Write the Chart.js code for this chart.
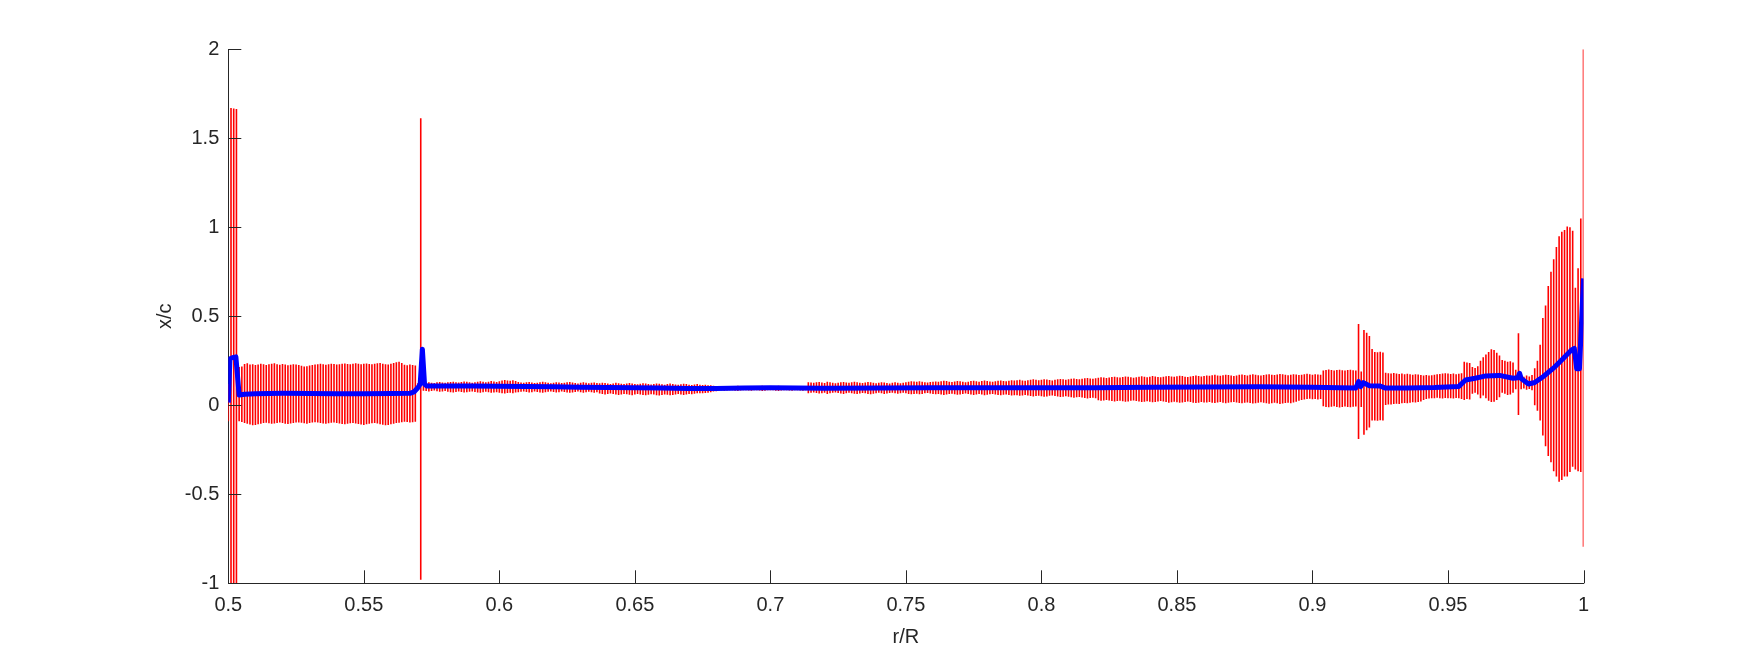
<!DOCTYPE html>
<html><head><meta charset="utf-8">
<script src="https://cdn.jsdelivr.net/npm/chart.js@4"></script>
<style>html,body{margin:0;padding:0;background:#fff;}canvas{display:block;}</style>
</head><body>
<canvas id="c" width="1750" height="656"></canvas>
<script>
// ---- tick labels ----
const xTicks = [0.5, 0.55, 0.6, 0.65, 0.7, 0.75, 0.8, 0.85, 0.9, 0.95, 1];
const xTickLabels = ['0.5', '0.55', '0.6', '0.65', '0.7', '0.75', '0.8', '0.85', '0.9', '0.95', '1'];
const yTicks = [-1, -0.5, 0, 0.5, 1, 1.5, 2];
const yTickLabels = ['-1', '-0.5', '0', '0.5', '1', '1.5', '2'];

// ---- radial sample grid of the red range bars (r/R = 0.500, 0.501, ... 1.000) ----
const rStart = 0.5, rEnd = 1.0;

// upper end of each red bar
const barHigh = [
 0.12, 1.67, 1.668, 1.665,
 0.215,0.218,0.232,0.236,0.229,0.231,0.226,0.229,0.233,0.230,
 0.227,0.231,0.234,0.236,0.230,0.228,0.232,0.229,0.225,0.228,
 0.231,0.229,0.226,0.222,0.218,0.220,0.224,0.227,0.229,0.231,
 0.233,0.230,0.228,0.231,0.234,0.232,0.229,0.231,0.233,0.235,
 0.232,0.230,0.233,0.236,0.234,0.231,0.233,0.235,0.232,0.230,
 0.233,0.236,0.238,0.234,0.231,0.229,0.233,0.237,0.242,0.245,
 0.238,0.228,0.225,0.229,0.226,0.224,
 0.125, 1.612,
 0.128,0.126,0.130,0.127,0.125,0.129,0.131,0.128,0.126,
 0.129,0.131,0.133,0.130,0.128,0.131,0.134,0.132,0.129,0.127,
 0.130,0.133,0.135,0.132,0.130,0.133,0.136,0.134,0.131,0.135,
 0.139,0.142,0.140,0.138,0.141,0.137,
 0.131,0.128,0.126,0.129,0.131,0.128,0.125,0.127,0.130,0.132,
 0.129,0.126,0.124,0.127,0.130,0.128,0.125,0.127,0.129,0.131,
 0.128,0.125,0.123,0.126,0.129,0.127,0.124,0.126,0.128,0.125,
 0.124,0.127,0.125,0.122,0.120,0.123,0.126,0.124,0.121,0.119,
 0.122,0.125,0.123,0.120,0.118,0.121,0.124,0.122,0.119,0.117,
 0.120,0.123,0.121,0.118,0.116,0.119,0.122,0.120,0.117,0.115,
 0.118,0.121,0.119,0.116,0.114,0.117,0.119,
 0.115,0.114,0.116,0.113,0.112,0.110,0.109,
 0.108,0.107,0.109,0.108,0.106,0.107,0.109,0.110,0.108,0.107,
 0.106,0.108,0.109,0.107,0.106,0.108,0.110,0.109,0.107,0.106,
 0.107,0.109,0.110,0.108,0.107,0.106,0.108,0.109,0.107,0.106,
 0.108,0.109,0.107,
 0.130,0.128,0.126,0.129,0.131,0.128,0.125,0.132,0.129,0.127,
 0.124,0.126,0.129,0.131,0.128,0.126,0.129,0.132,0.130,0.127,
 0.125,0.128,0.131,0.129,0.126,0.124,0.127,0.130,0.128,0.125,
 0.123,0.126,0.129,0.127,0.124,0.127,0.130,0.133,0.135,0.134,
 0.132,0.135,0.133,0.130,0.128,0.131,0.133,
 0.134,0.132,0.135,0.138,0.136,0.133,0.131,0.134,0.137,0.135,
 0.132,0.130,0.133,0.136,0.138,0.135,0.133,0.136,0.139,0.137,
 0.134,0.132,0.135,0.138,0.140,0.137,0.135,0.138,0.141,0.139,
 0.141,0.143,0.140,0.138,0.141,0.144,0.146,0.143,0.141,0.144,
 0.147,0.145,0.142,0.140,0.143,0.146,0.148,0.146,0.143,0.146,
 0.149,0.151,0.148,0.146,0.149,0.152,0.154,0.151,0.149,0.152,
 0.155,0.158,0.156,0.153,0.156,0.159,0.161,0.158,0.156,0.159,
 0.162,0.160,0.157,0.155,0.158,0.161,0.163,0.160,0.158,0.161,
 0.164,0.162,0.159,0.157,0.160,0.163,0.165,0.162,0.160,0.163,
 0.166,0.164,0.161,0.159,0.162,0.165,0.167,0.164,0.162,0.165,
 0.168,0.166,0.169,0.171,0.168,0.166,0.169,0.172,0.170,0.167,
 0.165,0.168,0.171,0.173,0.170,0.168,0.171,0.174,0.172,0.169,
 0.167,0.170,0.173,0.175,0.172,0.170,0.173,0.176,0.174,0.171,
 0.169,0.172,0.175,0.173,0.170,0.172,0.175,0.177,0.174,0.172,
 0.175,0.173,0.171,
 0.196,0.199,0.201,0.198,0.196,0.199,0.200,0.197,0.195,0.198,0.200,0.197,0.196,
 0.457,0.190,0.423,0.408,0.389,0.316,0.300,0.298,0.301,0.297,
 0.183,0.180,0.178,0.181,0.179,0.176,0.178,0.175,0.177,0.174,0.172,0.175,0.173,0.170,
 0.168,0.170,0.167,0.169,0.172,0.174,0.176,0.178,0.180,0.178,
 0.176,0.178,0.175,0.177,0.180,
 0.245,0.240,0.238,
 0.215,0.210,0.220,
 0.250,
 0.270,0.285,0.300,0.315,0.310,0.295,0.280,
 0.255,0.250,0.245,0.248,0.240,
 0.200,
 0.405,
 0.165,0.160,0.168,0.162,0.170,
 0.208,0.250,0.340,0.490,0.560,0.670,0.750,0.820,0.890,0.950,
 0.975,0.985,1.005,1.000,0.980,0.660,0.770,1.050,2.000
];

// lower end of each red bar
const barLow = [
 -0.09, -1.05, -1.05, -1.05,
 -0.090,-0.094,-0.100,-0.104,-0.108,-0.112,-0.110,-0.106,-0.103,-0.100,
 -0.098,-0.101,-0.104,-0.102,-0.099,-0.097,-0.100,-0.103,-0.105,-0.102,
 -0.099,-0.097,-0.096,-0.098,-0.101,-0.103,-0.100,-0.097,-0.095,-0.097,
 -0.100,-0.102,-0.104,-0.101,-0.098,-0.096,-0.099,-0.102,-0.105,-0.107,
 -0.104,-0.101,-0.099,-0.102,-0.105,-0.108,-0.110,-0.107,-0.104,-0.101,
 -0.099,-0.102,-0.106,-0.109,-0.112,-0.110,-0.106,-0.103,-0.100,-0.098,
 -0.095,-0.092,-0.094,-0.097,-0.095,-0.093,
 0.085, -0.98,
 0.082,0.080,0.078,0.081,0.083,0.079,0.076,0.078,0.080,
 0.076,0.074,0.072,0.075,0.078,0.075,0.072,0.073,0.076,0.078,
 0.075,0.072,0.070,0.073,0.076,0.073,0.070,0.072,0.074,0.071,
 0.068,0.066,0.069,0.071,0.068,0.072,
 0.074,0.076,0.078,0.075,0.072,0.074,0.077,0.075,0.072,0.070,
 0.073,0.076,0.078,0.075,0.072,0.074,0.077,0.075,0.072,0.070,
 0.072,0.075,0.077,0.074,0.071,0.073,0.076,0.074,0.071,0.073,
 0.066,0.063,0.061,0.064,0.066,0.063,0.060,0.058,0.061,0.064,
 0.062,0.059,0.057,0.060,0.063,0.061,0.058,0.056,0.059,0.062,
 0.060,0.057,0.055,0.058,0.061,0.059,0.056,0.058,0.061,0.063,
 0.060,0.058,0.061,0.064,0.062,0.065,0.067,
 0.068,0.067,0.069,0.071,0.074,0.077,0.079,
 0.083,0.084,0.082,0.083,0.085,0.084,0.082,0.081,0.083,0.084,
 0.085,0.083,0.082,0.084,0.085,0.083,0.081,0.082,0.084,0.085,
 0.084,0.082,0.081,0.083,0.084,0.085,0.083,0.082,0.084,0.085,
 0.083,0.082,0.084,
 0.068,0.070,0.072,0.069,0.066,0.068,0.071,0.064,0.067,0.070,
 0.072,0.069,0.066,0.064,0.067,0.070,0.068,0.065,0.063,0.066,
 0.069,0.067,0.064,0.062,0.065,0.068,0.070,0.067,0.064,0.066,
 0.069,0.071,0.068,0.065,0.067,0.070,0.067,0.064,0.062,0.063,
 0.065,0.062,0.064,0.067,0.069,0.066,0.064,
 0.062,0.064,0.061,0.058,0.060,0.063,0.065,0.062,0.059,0.061,
 0.064,0.066,0.063,0.060,0.058,0.061,0.063,0.060,0.057,0.059,
 0.062,0.064,0.061,0.058,0.056,0.059,0.061,0.058,0.055,0.057,
 0.056,0.053,0.055,0.058,0.055,0.052,0.049,0.052,0.054,0.051,
 0.048,0.050,0.053,0.055,0.052,0.049,0.046,0.048,0.051,0.048,
 0.045,0.042,0.045,0.047,0.044,0.041,0.038,0.041,0.043,0.040,
 0.028,0.025,0.027,0.030,0.027,0.024,0.021,0.024,0.026,0.023,
 0.020,0.022,0.025,0.027,0.024,0.021,0.018,0.020,0.023,0.020,
 0.017,0.019,0.022,0.024,0.021,0.018,0.015,0.017,0.020,0.017,
 0.014,0.016,0.019,0.021,0.018,0.015,0.013,0.015,0.018,0.016,
 0.016,0.018,0.015,0.013,0.016,0.018,0.015,0.012,0.014,0.017,
 0.019,0.016,0.013,0.011,0.014,0.016,0.013,0.010,0.012,0.015,
 0.017,0.014,0.011,0.009,0.012,0.014,0.011,0.008,0.010,0.013,
 0.015,0.012,0.016,0.020,0.026,0.030,0.033,0.035,0.037,0.034,
 0.036,0.033,0.035,
 -0.006,-0.009,-0.011,-0.008,-0.006,-0.009,-0.012,-0.010,-0.007,-0.009,-0.011,-0.008,-0.007,
 -0.190,-0.010,-0.165,-0.140,-0.125,-0.085,-0.085,-0.087,-0.084,-0.086,
 0.002,0.005,0.004,0.007,0.009,0.008,0.011,0.013,0.012,0.015,0.017,0.016,0.019,0.021,
 0.030,0.035,0.038,0.040,0.039,0.042,0.040,0.038,0.041,0.039,
 0.040,0.038,0.041,0.039,0.036,
 0.030,0.035,0.032,
 0.065,0.070,0.060,
 0.040,
 0.055,0.040,0.025,0.018,0.020,0.030,0.045,
 0.070,0.065,0.058,0.060,0.070,
 0.090,
 -0.055,
 0.090,0.095,0.088,0.092,0.085,
 0.000,-0.030,-0.085,-0.170,-0.230,-0.285,-0.320,-0.370,-0.400,-0.430,
 -0.420,-0.400,-0.400,-0.375,-0.345,-0.360,-0.370,-0.375,-0.795
];

// blue mean curve
const meanR = [0.5, 0.5006, 0.5015, 0.5028, 0.5040, 0.506, 0.51, 0.52, 0.53, 0.54, 0.55, 0.56, 0.567,
  0.5685, 0.5700, 0.5708, 0.5716, 0.5724, 0.5732, 0.58, 0.59, 0.60, 0.61, 0.62, 0.63, 0.64, 0.65,
  0.66, 0.67, 0.68, 0.69, 0.70, 0.71, 0.72, 0.74, 0.76, 0.78, 0.80, 0.82, 0.84, 0.86, 0.88, 0.90,
  0.91, 0.916, 0.9170, 0.9178, 0.9188, 0.921, 0.925, 0.927, 0.935, 0.945, 0.954, 0.9565, 0.96,
  0.964, 0.969, 0.974, 0.9758, 0.9764, 0.977, 0.9797, 0.982, 0.9852, 0.989, 0.9926, 0.9955,
  0.9966, 0.9975, 0.9985, 1.0];
const meanY = [0.015, 0.26, 0.268, 0.272, 0.058, 0.062, 0.065, 0.067, 0.066, 0.065, 0.065, 0.066, 0.067,
  0.075, 0.10, 0.12, 0.315, 0.12, 0.108, 0.108, 0.108, 0.107, 0.106, 0.104, 0.102, 0.100, 0.098,
  0.097, 0.095, 0.094, 0.097, 0.098, 0.097, 0.096, 0.097, 0.098, 0.098, 0.099, 0.099, 0.101, 0.103, 0.104, 0.102,
  0.098, 0.097, 0.133, 0.105, 0.127, 0.110, 0.108, 0.097, 0.097, 0.100, 0.106, 0.142, 0.152,
  0.165, 0.168, 0.152, 0.155, 0.180, 0.150, 0.120, 0.128, 0.162, 0.210, 0.264, 0.310,
  0.320, 0.205, 0.205, 0.713];

const FONT = "'Liberation Sans', Arial, Helvetica, sans-serif";
const INK = '#262626';

const rStep = (rEnd - rStart) / (barHigh.length - 1);
const barData = barHigh.map((h, i) => ({ x: rStart + i * rStep, y: [barLow[i], h] }));
const meanData = meanR.map((r, i) => ({ x: r, y: meanY[i] }));

const insideTicks = {
  id: 'insideTicks',
  afterDatasetsDraw(chart) {
    const { ctx, chartArea: a, scales: { x, y } } = chart;
    ctx.save();
    ctx.strokeStyle = INK;
    ctx.lineWidth = 1;
    ctx.beginPath();
    x.ticks.forEach(t => {
      const p = Math.round(x.getPixelForValue(t.value)) + 0.5;
      ctx.moveTo(p, a.bottom); ctx.lineTo(p, a.bottom - 13);
    });
    y.ticks.forEach(t => {
      const p = Math.round(y.getPixelForValue(t.value)) + 0.5;
      ctx.moveTo(a.left, p); ctx.lineTo(a.left + 13, p);
    });
    ctx.stroke();
    ctx.restore();
  }
};

new Chart(document.getElementById('c'), {
  type: 'bar',
  data: {
    datasets: [
      {
        type: 'line', data: meanData, borderColor: '#0000ff', borderWidth: 5,
        pointRadius: 0, tension: 0, fill: false, borderJoinStyle: 'round', order: 1
      },
      {
        type: 'bar', data: barData, backgroundColor: '#ff0000', borderWidth: 0,
        barThickness: 1.6, inflateAmount: 0, grouped: false, order: 2
      }
    ]
  },
  options: {
    responsive: false, animation: false, events: [],
    layout: { padding: { left: 0, right: 166.5, top: 49.3, bottom: 0 } },
    plugins: { legend: { display: false }, tooltip: { enabled: false } },
    scales: {
      x: {
        type: 'linear', min: 0.5, max: 1, offset: false, z: 1,
        grid: { display: false, offset: false, drawTicks: false },
        border: { display: true, color: INK, width: 1 },
        afterBuildTicks: s => { s.ticks = xTicks.map(v => ({ value: v })); },
        afterFit: s => { s.height = 72.7; },
        ticks: {
          color: INK, font: { family: FONT, size: 20 }, padding: 10.5, maxRotation: 0,
          callback: (v) => { const k = xTicks.findIndex(t => Math.abs(t - v) < 1e-9); return k >= 0 ? xTickLabels[k] : ''; }
        },
        title: { display: true, text: 'r/R', color: INK, font: { family: FONT, size: 20 }, padding: { top: 0, bottom: 7 } }
      },
      y: {
        type: 'linear', min: -1, max: 2, z: 1,
        grid: { display: false, drawTicks: false },
        border: { display: true, color: INK, width: 1 },
        afterBuildTicks: s => { s.ticks = yTicks.map(v => ({ value: v })); },
        afterFit: s => { s.width = 228.3; },
        ticks: {
          color: INK, font: { family: FONT, size: 20 }, padding: 9,
          callback: (v) => { const k = yTicks.findIndex(t => Math.abs(t - v) < 1e-9); return k >= 0 ? yTickLabels[k] : ''; }
        },
        title: { display: true, text: 'x/c', color: INK, font: { family: FONT, size: 20 }, padding: { top: 153, bottom: 0 } }
      }
    }
  },
  plugins: [insideTicks]
});
</script>
</body></html>
